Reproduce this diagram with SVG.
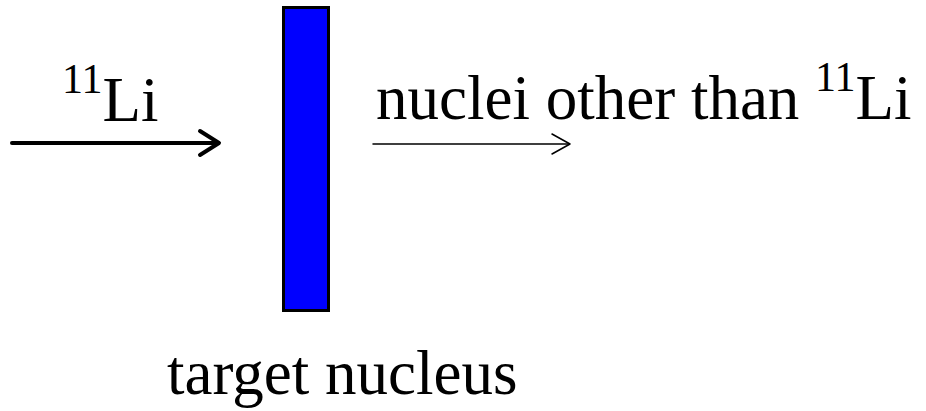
<svg xmlns="http://www.w3.org/2000/svg" width="926" height="411" viewBox="0 0 926 411">
<style>
text{font-family:"Liberation Serif","Times New Roman",serif;fill:#000}
.big{font-size:63px}
.sup{font-size:42px}
</style>
<rect width="926" height="411" fill="#fff"/>
<g id="target">
<rect x="283.5" y="7.5" width="45" height="303" fill="#0000ff" stroke="#000" stroke-width="3"/>
<text class="big" x="167" y="394">target nucleus</text>
</g>
<g id="incoming-label">
<text x="62" y="121"><tspan class="sup" dy="-28">11</tspan><tspan class="big" dy="28">Li</tspan></text>
</g>
<g id="outgoing-label">
<text x="376" y="119" class="big">nuclei other than <tspan class="sup" dy="-28">11</tspan><tspan dy="28">Li</tspan></text>
</g>
<g id="connectors" fill="none" stroke="#000" stroke-linecap="round" stroke-linejoin="round">
<path d="M12 143 H218" stroke-width="4"/>
<path d="M200 131 L219 143 L200 155" stroke-width="4"/>
<path d="M373 144 H569" stroke-width="1.5"/>
<path d="M552 134 L570 144 L552 154" stroke-width="1.5"/>
</g>
</svg>
